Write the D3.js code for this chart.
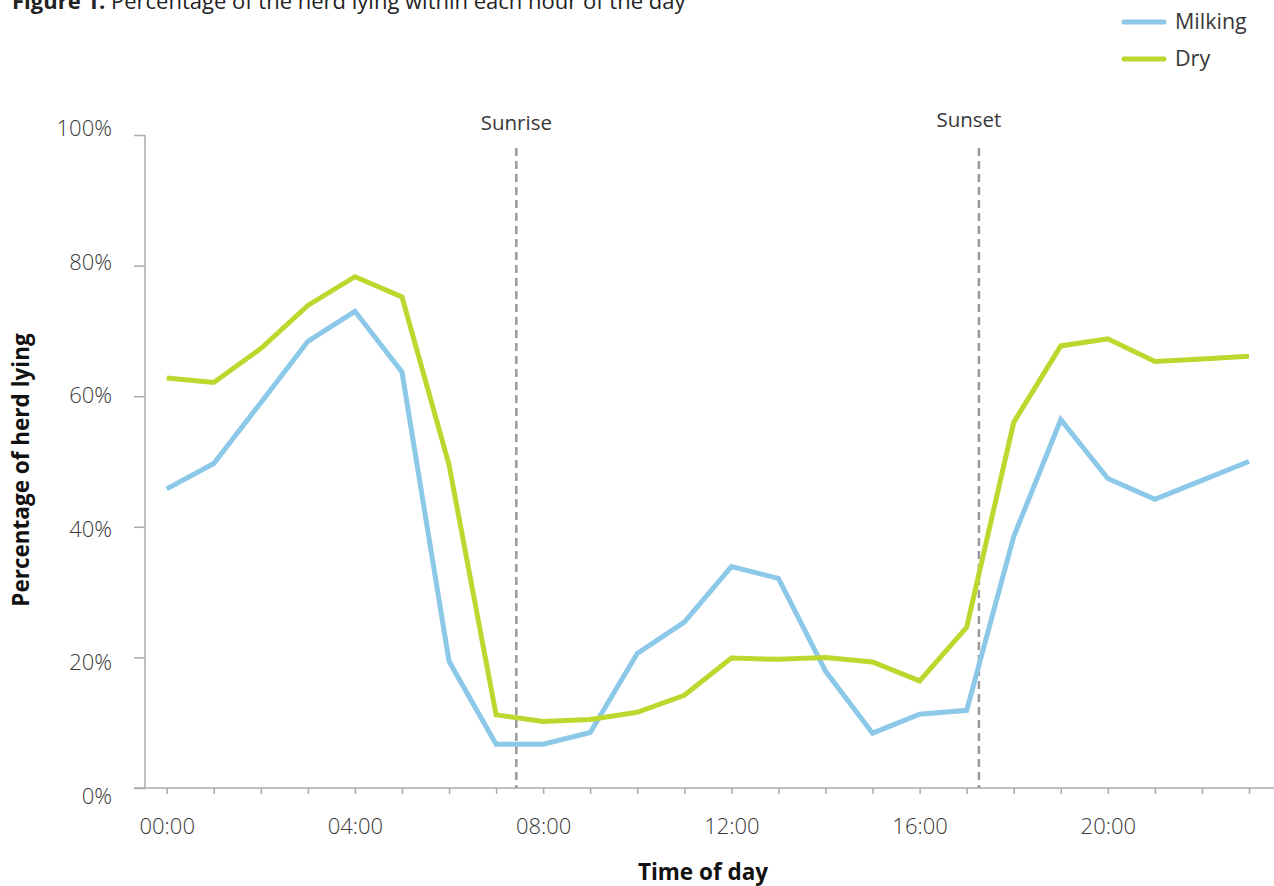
<!DOCTYPE html>
<html>
<head>
<meta charset="utf-8">
<script src="https://cdn.jsdelivr.net/npm/d3@7"></script>
<style>
  html, body { margin: 0; padding: 0; background: #fff; }
  svg { display: block; }
  text { font-family: "Open Sans", "Noto Sans", sans-serif; }
</style>
</head>
<body>
<svg id="chart" width="1274" height="886"></svg>
<script>
const hours = d3.range(0, 24);
const hourLabels = ["00:00", "04:00", "08:00", "12:00", "16:00", "20:00"];
const labelHours = [0, 4, 8, 12, 16, 20];
const milking = [45.8, 49.7, 59.0, 68.4, 73.0, 63.7, 19.4, 6.7, 6.7, 8.5, 20.6, 25.4,
                 33.9, 32.1, 17.9, 8.4, 11.3, 11.9, 38.5, 56.4, 47.4, 44.2, 47.1, 50.0];
const dry = [62.8, 62.1, 67.3, 73.9, 78.3, 75.2, 49.5, 11.2, 10.2, 10.5, 11.6, 14.2,
             19.9, 19.7, 20.0, 19.3, 16.4, 24.6, 56.0, 67.7, 68.8, 65.3, 65.7, 66.1];
const yTicks = [0, 20, 40, 60, 80, 100];
const markers = [{ name: "Sunrise", hour: 7.43 }, { name: "Sunset", hour: 17.26 }];
const seriesNames = ["Milking", "Dry"];
const colors = ["#8CC8E8", "#BDD72F"];

const svg = d3.select("#chart");
const x = d3.scaleLinear().domain([0, 23]).range([166.7, 1249]);
const y = d3.scaleLinear().domain([0, 100]).range([788, 135]);
const axisColor = "#ababab";
const textColor = "#383838";

// Title (partially cut at top, as in the source)
const title = svg.append("text").attr("x", 12).attr("y", 9)
  .attr("font-size", 22).attr("fill", "#222");
title.append("tspan").attr("font-weight", "bold").text("Figure 1. ");
title.append("tspan").text("Percentage of the herd lying within each hour of the day");

// Y axis
const yAxis = d3.axisLeft(y).tickValues(yTicks).tickSize(11).tickFormat(d => d + "%");
const gy = svg.append("g").attr("transform", "translate(145,0)").call(yAxis);
gy.select(".domain").attr("stroke", axisColor).attr("stroke-width", 1.5).attr("d", `M0,${y(100)}V${y(0)}`);
gy.selectAll(".tick line").attr("stroke", axisColor).attr("stroke-width", 1.5);
gy.selectAll(".tick text").attr("font-size", 22).attr("fill", textColor)
  .attr("x", -33).attr("dy", d => (7.9 + (50 - d) * 0.15) + "px")
  .style("font-family", "'Open Sans', sans-serif").style("font-weight", 300);

// X axis
const xAxis = d3.axisBottom(x).tickValues(hours).tickSize(6)
  .tickFormat(d => labelHours.includes(d) ? hourLabels[labelHours.indexOf(d)] : "");
const gx = svg.append("g").attr("transform", `translate(0,${y(0)})`).call(xAxis);
gx.select(".domain").attr("stroke", axisColor).attr("stroke-width", 1.5)
  .attr("d", `M${x(-0.7)},0H1274`);
gx.selectAll(".tick line").attr("stroke", axisColor).attr("stroke-width", 1.5);
gx.selectAll(".tick text").attr("font-size", 22).attr("fill", textColor).attr("y", 30)
  .style("font-family", "'Open Sans', sans-serif").style("font-weight", 300);

// Sunrise / sunset markers
markers.forEach(m => {
  svg.append("line").attr("x1", x(m.hour)).attr("x2", x(m.hour))
    .attr("y1", 148).attr("y2", y(0))
    .attr("stroke", "#999").attr("stroke-width", 2.5).attr("stroke-dasharray", "8,5");
});
svg.append("text").attr("x", x(markers[0].hour)).attr("y", 130).attr("text-anchor", "middle")
  .attr("font-size", 20.5).attr("fill", textColor).text(markers[0].name);
svg.append("text").attr("x", x(markers[1].hour) - 10).attr("y", 127).attr("text-anchor", "middle")
  .attr("font-size", 20.5).attr("fill", textColor).text(markers[1].name);

// Lines
const line = d3.line().x((d, i) => x(hours[i])).y(d => y(d));
[milking, dry].forEach((s, i) => {
  svg.append("path").datum(s).attr("d", line).attr("fill", "none")
    .attr("stroke", colors[i]).attr("stroke-width", 5).attr("stroke-linejoin", "miter");
});

// Legend
seriesNames.forEach((n, i) => {
  const ly = 22 + i * 37;
  svg.append("line").attr("x1", 1124).attr("x2", 1164).attr("y1", ly).attr("y2", ly)
    .attr("stroke", colors[i]).attr("stroke-width", 5).attr("stroke-linecap", "round");
  svg.append("text").attr("x", 1175).attr("y", ly + 7).attr("font-size", 21.5)
    .attr("fill", textColor).text(n);
});

// Axis titles
svg.append("text").attr("x", 703).attr("y", 880).attr("text-anchor", "middle")
  .attr("font-size", 22.5).attr("font-weight", "bold").attr("fill", "#111").text("Time of day");
svg.append("text").attr("transform", "translate(29,470) rotate(-90)").attr("text-anchor", "middle")
  .attr("font-size", 22.5).attr("font-weight", "bold").attr("fill", "#111").text("Percentage of herd lying");
</script>
</body>
</html>
